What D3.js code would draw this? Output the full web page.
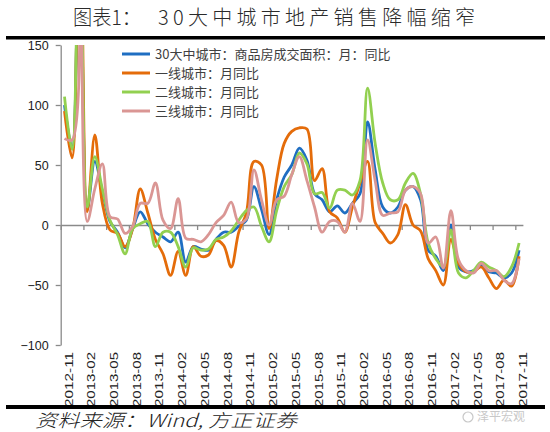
<!DOCTYPE html>
<html><head><meta charset="utf-8">
<script src="https://cdn.jsdelivr.net/npm/d3@7/dist/d3.min.js"></script>
<style>body{margin:0;background:#fff}svg{display:block}</style>
</head><body><svg id="c" width="550" height="432"></svg>
<script>
const months = ["2012-11","2012-12","2013-01","2013-02","2013-03","2013-04","2013-05","2013-06","2013-07","2013-08","2013-09","2013-10",
"2013-11","2013-12","2014-01","2014-02","2014-03","2014-04","2014-05","2014-06","2014-07","2014-08","2014-09","2014-10",
"2014-11","2014-12","2015-01","2015-02","2015-03","2015-04","2015-05","2015-06","2015-07","2015-08","2015-09","2015-10",
"2015-11","2015-12","2016-01","2016-02","2016-03","2016-04","2016-05","2016-06","2016-07","2016-08","2016-09","2016-10",
"2016-11","2016-12","2017-01","2017-02","2017-03","2017-04","2017-05","2017-06","2017-07","2017-08","2017-09","2017-10","2017-11"];
const tickLabels = ["2012-11","2013-02","2013-05","2013-08","2013-11","2014-02","2014-05","2014-08","2014-11","2015-02","2015-05",
"2015-08","2015-11","2016-02","2016-05","2016-08","2016-11","2017-02","2017-05","2017-08","2017-11"];
const yTicks = [150,100,50,0,-50,-100];
const seriesNames = ["30大中城市：商品房成交面积：月：同比","一线城市：月同比","二线城市：月同比","三线城市：月同比"];
const seriesColors = ["#1F6EC2","#E46C0A","#92D050","#DA9694"];

const city30 = [100,64,280,13,53,28,3,-6,-19,-3,11,1,-6,-10,-14,-6,-31,-18,-20,-21,-12,-6,-6,-1,4,32,13,-8,21,40,50,64,54,26,21,11,16,10,18,26,86,46,15,10,15,29,32,21,-21,-26,-38,0,-35,-39,-38,-33,-39,-40,-44,-40,-21];
const tier1 = [95,56,300,11,75,18,-4,-7,-18,-3,30,10,-12,-24,-42,-22,-42,-18,-26,-25,-13,-17,-35,-6,10,53,50,-3,38,68,78,81,80,37,47,11,6,-6,15,35,53,2,-7,-15,-8,17,0,-5,-28,-38,-50,-12,-32,-39,-39,-35,-44,-53,-46,-51,-26];
const tier2 = [107,63,290,15,57,30,4,-8,-24,-3,1,3,-18,-6,-6,-18,-35,-19,-21,-20,-12,-10,-5,4,12,15,-1,-14,12,32,42,60,51,26,27,14,29,29,25,37,114,68,35,21,21,35,43,26,-15,-28,-35,-4,-40,-44,-38,-31,-35,-38,-43,-35,-15];
const tier3 = [72,71,285,3,30,51,7,5,-7,-1,18,18,35,4,-3,22,-11,-12,-14,-8,2,8,19,2,5,46,21,0,21,24,42,57,37,15,-6,3,3,-6,18,3,71,37,8,10,11,29,32,26,-15,-10,-36,12,-29,-38,-40,-32,-38,-38,-46,-49,-28];
const seriesData = [city30, tier1, tier2, tier3];

const svg = d3.select("#c");
const L = 60.7, R = 522.9, T = 45, B = 345;
const x = d3.scaleBand().domain(months).range([L, R]).padding(0);
const xEdge = d3.scaleLinear().domain([0, months.length]).range([L, R]);
const y = d3.scaleLinear().domain([-100, 150]).range([B, T]);
const axisColor = "#8a8a8a";

// title
svg.append("text").attr("x", 73).attr("y", 25).attr("font-family", "Noto Sans CJK SC").attr("font-size", 20).attr("font-weight", 300)
  .attr("fill", "#2a2a2a").attr("textLength", 68).attr("lengthAdjust", "spacingAndGlyphs").text("图表1：");
svg.append("text").attr("x", 158).attr("y", 25).attr("font-family", "Noto Sans CJK SC").attr("font-size", 20).attr("font-weight", 300)
  .attr("fill", "#2a2a2a").attr("textLength", 317).attr("lengthAdjust", "spacing").text("30大中城市地产销售降幅缩窄");
svg.append("rect").attr("x", 6).attr("y", 36).attr("width", 539).attr("height", 3.5).attr("fill", "#000");

// y axis
const yAxis = svg.append("g").attr("transform", `translate(${L},0)`)
  .call(d3.axisLeft(y).tickValues(yTicks).tickSize(5).tickSizeOuter(0).tickFormat(d3.format("d")));
yAxis.selectAll("path,line").attr("stroke", axisColor).attr("stroke-width", 1.3);
yAxis.selectAll("text").attr("font-family", "Liberation Sans, Arial").attr("font-size", 12.5).attr("fill", "#222").attr("x", -12);

// x axis at 0
const xAxis = svg.append("g").attr("transform", `translate(0,${y(0)})`)
  .call(d3.axisBottom(xEdge).tickValues(d3.range(0, months.length, 3)).tickSize(5).tickSizeOuter(0).tickFormat(""));
xAxis.selectAll("path,line").attr("stroke", axisColor).attr("stroke-width", 1.3);

// x labels
svg.append("g").selectAll("text").data(tickLabels).join("text")
  .attr("transform", d => `translate(${x(d) + x.bandwidth() / 2 + 4},352) rotate(-90)`)
  .attr("text-anchor", "end").attr("dy", "0.35em")
  .attr("font-family", "Liberation Sans, Arial").attr("font-size", 11.5).attr("fill", "#222")
  .attr("textLength", 55).attr("lengthAdjust", "spacingAndGlyphs")
  .text(d => d);

// lines
svg.append("clipPath").attr("id", "plotclip").append("rect").attr("x", L).attr("y", T).attr("width", R - L).attr("height", B - T);
const line = d3.line().x((d, i) => x(months[i]) + x.bandwidth() / 2).y(d => y(d)).curve(d3.curveCatmullRom.alpha(0.5));
svg.append("g").attr("clip-path", "url(#plotclip)").selectAll("path").data(seriesData).join("path")
  .attr("d", d => line(d)).attr("fill", "none").attr("stroke", (d, i) => seriesColors[i])
  .attr("stroke-width", 2.8).attr("stroke-linejoin", "round");

// legend
const lg = svg.append("g");
seriesNames.forEach((n, i) => {
  const yy = 54 + i * 19;
  lg.append("line").attr("x1", 122).attr("x2", 150).attr("y1", yy).attr("y2", yy)
    .attr("stroke", seriesColors[i]).attr("stroke-width", 3);
  lg.append("text").attr("x", 155).attr("y", yy).attr("dy", "0.35em")
    .attr("font-family", "Noto Sans CJK SC").attr("font-size", 13).attr("fill", "#404040").text(n);
});

// footer
svg.append("rect").attr("x", 6).attr("y", 405).attr("width", 539).attr("height", 4).attr("fill", "#000");
svg.append("text").attr("x", 35).attr("y", 427).attr("font-family", "Noto Sans CJK SC").attr("font-size", 18)
  .attr("font-style", "italic").attr("font-weight", 300).attr("fill", "#222").attr("textLength", 262).attr("lengthAdjust", "spacingAndGlyphs")
  .text("资料来源：Wind, 方正证券");
svg.append("circle").attr("cx", 468).attr("cy", 417).attr("r", 5).attr("fill", "none").attr("stroke", "#c8c8c8").attr("stroke-width", 1.2);
svg.append("text").attr("x", 477).attr("y", 421).attr("font-family", "Noto Sans CJK SC").attr("font-size", 12)
  .attr("fill", "#c8c8c8").text("泽平宏观");
</script></body></html>
